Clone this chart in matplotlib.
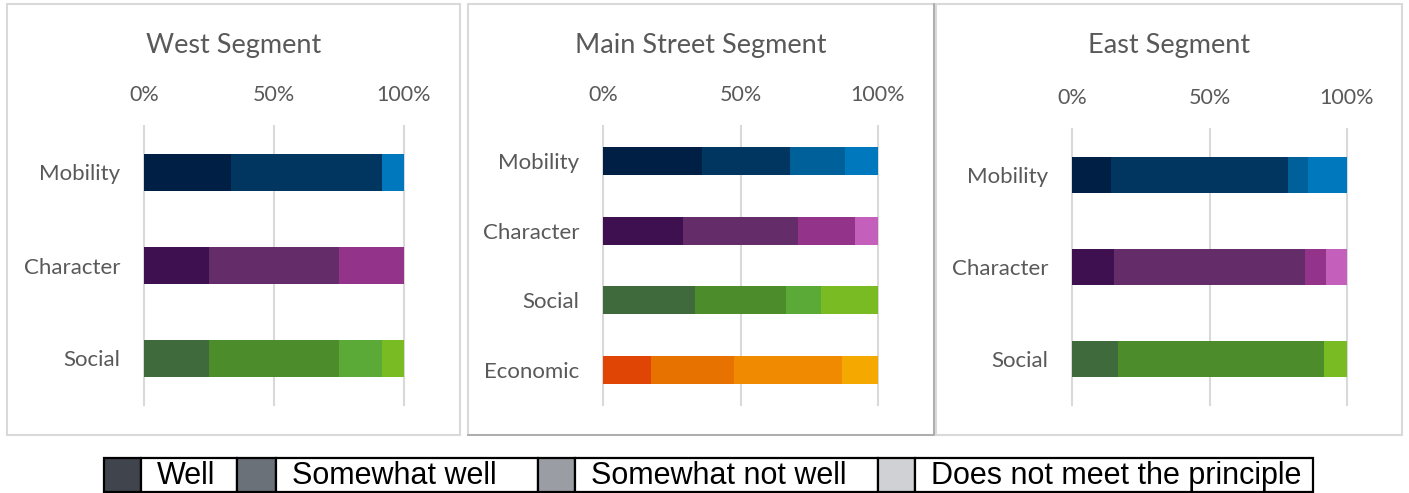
import matplotlib
matplotlib.use("Agg")
import matplotlib.pyplot as plt
from matplotlib.patches import Rectangle
from matplotlib.lines import Line2D
import numpy as np

# ratings, in stack order
RATINGS = ["Well", "Somewhat well", "Somewhat not well", "Does not meet the principle"]
LEGEND_COLORS = ["#40444C", "#6B7178", "#9A9DA4", "#D0D1D5"]

# West Segment (% of responses)
WEST_CATS = ["Mobility", "Character", "Social"]
WEST_WELL = [33.3, 25.0, 25.0]
WEST_SOMEWHAT_WELL = [58.3, 50.0, 50.0]
WEST_SOMEWHAT_NOT = [0.0, 25.0, 16.7]
WEST_NOT_MEET = [8.4, 0.0, 8.3]

# Main Street Segment
MAIN_CATS = ["Mobility", "Character", "Social", "Economic"]
MAIN_WELL = [36.0, 29.2, 33.3, 17.4]
MAIN_SOMEWHAT_WELL = [32.0, 41.7, 33.3, 30.4]
MAIN_SOMEWHAT_NOT = [20.0, 20.8, 12.5, 39.1]
MAIN_NOT_MEET = [12.0, 8.3, 20.9, 13.1]

# East Segment
EAST_CATS = ["Mobility", "Character", "Social"]
EAST_WELL = [14.3, 15.4, 16.7]
EAST_SOMEWHAT_WELL = [64.3, 69.2, 75.0]
EAST_SOMEWHAT_NOT = [7.1, 7.7, 0.0]
EAST_NOT_MEET = [14.3, 7.7, 8.3]

TICKS = [0, 50, 100]

# shades per principle, dark -> light
CAT_COLORS = {
    "Mobility": ["#001F45", "#00365F", "#00609A", "#0078BE"],
    "Character": ["#3F104F", "#642C68", "#93338A", "#C45FBB"],
    "Social": ["#3F6A3C", "#4C8C2B", "#5BAA37", "#78BB22"],
    "Economic": ["#E04505", "#E87200", "#F08A00", "#F5A800"],
}

W, H = 1409, 493
TEXT_GRAY = "#595959"
FONT = ["Lato", "DejaVu Sans"]


def px_box(x0, y0, x1, y1):
    # pixel box (top-left origin) -> figure fraction [l, b, w, h]
    return [x0 / W, 1 - y1 / H, (x1 - x0) / W, (y1 - y0) / H]


def draw_panel(fig, frame, plot_box, title, cats, series, shadow=False):
    fl, ft, fr, fb = frame
    fig.add_artist(Rectangle((fl / W, 1 - fb / H), (fr - fl) / W, (fb - ft) / H,
                             transform=fig.transFigure, fill=False,
                             edgecolor="#D9D9D9", lw=1.5))
    if shadow:
        # the middle chart box has a darker bottom / right edge
        fig.add_artist(Line2D([fl / W, fr / W, fr / W], [1 - fb / H, 1 - fb / H, 1 - ft / H],
                              transform=fig.transFigure, color="#A6A6A6", lw=1.2))
    fig.text((fl + fr) / 2 / W, 1 - 45 / H, title, ha="center", va="center",
             fontsize=19.5, color=TEXT_GRAY, family=FONT)

    ax = fig.add_axes(px_box(*plot_box))
    y = np.arange(len(cats))
    left = np.zeros(len(cats))
    for i, vals in enumerate(series):
        vals = np.array(vals, dtype=float)
        colors = [CAT_COLORS[c][i] for c in cats]
        ax.barh(y, vals, left=left, height=0.4, color=colors, zorder=3)
        left += vals

    ax.set_xlim(0, 100)
    ax.set_ylim(len(cats) - 0.5, -0.5)
    ax.set_xticks(TICKS)
    ax.set_xticklabels([f"{t}%" for t in TICKS])
    ax.set_yticks(y)
    ax.set_yticklabels(cats)
    ax.xaxis.tick_top()
    ax.tick_params(axis="x", length=0, pad=15, labelsize=15.5, labelcolor=TEXT_GRAY)
    ax.tick_params(axis="y", length=0, pad=17, labelsize=16, labelcolor=TEXT_GRAY)
    for lab in ax.get_xticklabels() + ax.get_yticklabels():
        lab.set_family(FONT)
    ax.grid(axis="x", color="#D9D9D9", lw=1.5, zorder=0)
    for gl in ax.get_xgridlines():
        gl.set_clip_on(False)
    for s in ax.spines.values():
        s.set_visible(False)
    ax.patch.set_alpha(0)
    return ax


def draw_legend(fig):
    ax = fig.add_axes([0, 0, 1, 1], zorder=-1)
    ax.set_xlim(0, W)
    ax.set_ylim(H, 0)
    ax.axis("off")
    # cell edges in pixels: swatch, label, swatch, label ...
    edges = [104, 141, 237, 276, 538, 575, 878, 915, 1313]
    top, bot = 458, 491.5
    for i, name in enumerate(RATINGS):
        sx0, sx1, tx1 = edges[2 * i], edges[2 * i + 1], edges[2 * i + 2]
        ax.add_patch(Rectangle((sx0, top), sx1 - sx0, bot - top,
                               facecolor=LEGEND_COLORS[i], edgecolor="black", lw=1.6))
        ax.add_patch(Rectangle((sx1, top), tx1 - sx1, bot - top,
                               facecolor="white", edgecolor="black", lw=1.6))
        ax.text(sx1 + 16, (top + bot) / 2 + 1.5, name, ha="left", va="center",
                fontsize=22, color="black", family=["Liberation Sans", "DejaVu Sans"])


def main():
    fig = plt.figure(figsize=(W / 100, H / 100), dpi=100)

    draw_panel(fig, (7, 4, 460, 435), (144, 126, 404, 405), "West Segment",
               WEST_CATS, [WEST_WELL, WEST_SOMEWHAT_WELL, WEST_SOMEWHAT_NOT, WEST_NOT_MEET])
    draw_panel(fig, (468, 4, 934, 435), (603, 126, 878, 405), "Main Street Segment",
               MAIN_CATS, [MAIN_WELL, MAIN_SOMEWHAT_WELL, MAIN_SOMEWHAT_NOT, MAIN_NOT_MEET],
               shadow=True)
    draw_panel(fig, (936, 4, 1402, 435), (1072, 129, 1347, 405), "East Segment",
               EAST_CATS, [EAST_WELL, EAST_SOMEWHAT_WELL, EAST_SOMEWHAT_NOT, EAST_NOT_MEET])
    draw_legend(fig)

    fig.savefig("out.png", dpi=100)
    plt.close(fig)


if __name__ == "__main__":
    main()
